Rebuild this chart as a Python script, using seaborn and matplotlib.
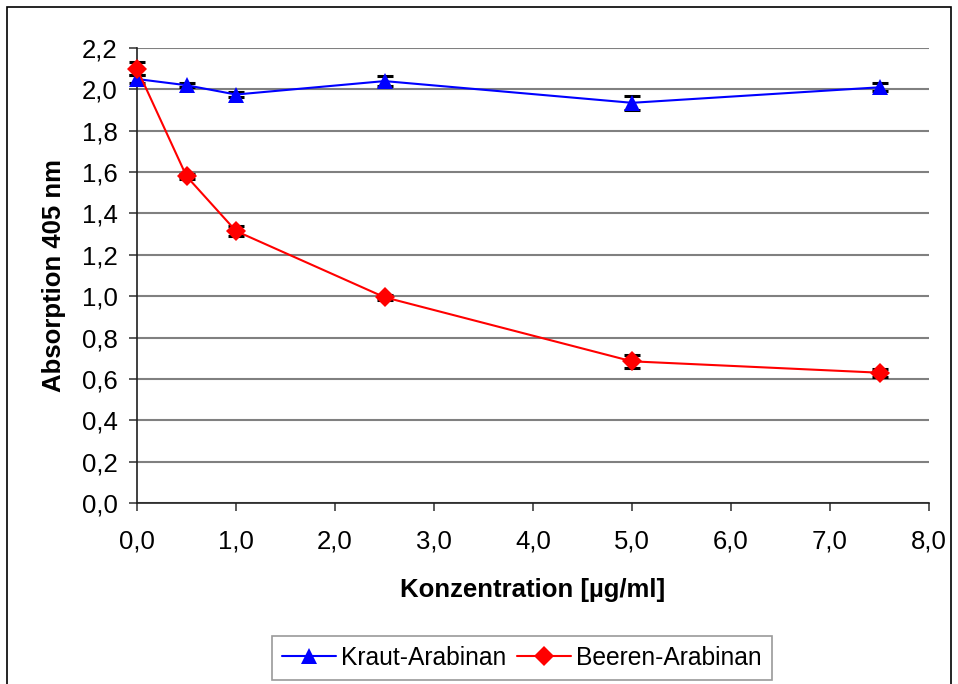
import numpy as np
import pandas as pd
import matplotlib
matplotlib.use("Agg")
import matplotlib.pyplot as plt
import seaborn as sns
from matplotlib.patches import Rectangle
from matplotlib.lines import Line2D
from matplotlib.ticker import FuncFormatter, MultipleLocator

# Daten
konzentration = [0.0, 0.5, 1.0, 2.5, 5.0, 7.5]
kraut = [2.05, 2.02, 1.975, 2.04, 1.935, 2.01]
kraut_err = [0.02, 0.01, 0.012, 0.025, 0.035, 0.02]
beeren = [2.10, 1.58, 1.315, 0.995, 0.685, 0.63]
beeren_err = [0.03, 0.012, 0.025, 0.012, 0.03, 0.02]
serien = ["Kraut-Arabinan", "Beeren-Arabinan"]
farben = {"Kraut-Arabinan": "#0000ff", "Beeren-Arabinan": "#ff0000"}
marker = {"Kraut-Arabinan": "^", "Beeren-Arabinan": "D"}

df = pd.DataFrame({
    "Konzentration": konzentration * 2,
    "Absorption": kraut + beeren,
    "Fehler": kraut_err + beeren_err,
    "Serie": [serien[0]] * len(konzentration) + [serien[1]] * len(konzentration),
})

sns.set_style("white")
plt.rcParams["font.family"] = ["Liberation Sans", "DejaVu Sans"]
plt.rcParams["text.color"] = "black"
plt.rcParams["axes.labelcolor"] = "black"
plt.rcParams["xtick.color"] = "black"
plt.rcParams["ytick.color"] = "black"
fs = 18.5

fig = plt.figure(figsize=(9.58, 6.84), dpi=100)
ax = fig.add_axes([137 / 958, 1 - 503 / 684, (929 - 137) / 958, (503 - 48) / 684])

sns.lineplot(data=df, x="Konzentration", y="Absorption", hue="Serie", style="Serie",
             palette=farben, markers=marker, dashes=False, linewidth=1.5,
             ax=ax, zorder=3, legend=False)
for ln in ax.lines:
    c = ln.get_color()
    ln.set_markeredgecolor(c)
    ln.set_markerfacecolor(c)
    ln.set_markeredgewidth(0)
    ln.set_markersize(12 if ln.get_marker() == "^" else 10)
    ln.set_clip_on(False)

# Fehlerbalken
for s in serien:
    d = df[df["Serie"] == s]
    eb = ax.errorbar(d["Konzentration"], d["Absorption"], yerr=d["Fehler"], fmt="none",
                     ecolor="black", elinewidth=1.5, capsize=6, capthick=2.2, zorder=2)
    for art in eb.lines[1] + eb.lines[2]:
        art.set_clip_on(False)

ax.set_xlim(0, 8)
ax.set_ylim(0, 2.2)
ax.xaxis.set_major_locator(MultipleLocator(1.0))
ax.yaxis.set_major_locator(MultipleLocator(0.2))
komma = FuncFormatter(lambda v, p: f"{v:.1f}".replace(".", ","))
ax.xaxis.set_major_formatter(komma)
ax.yaxis.set_major_formatter(komma)
ax.grid(axis="y", color="#808080", linewidth=1.5)
ax.set_axisbelow(True)
for sp in ["top", "right"]:
    ax.spines[sp].set_visible(False)
for sp in ["left", "bottom"]:
    ax.spines[sp].set_color("#202020")
    ax.spines[sp].set_linewidth(1.2)
ax.tick_params(axis="both", direction="out", length=6, width=1.2, color="#404040",
               labelsize=fs, left=True, bottom=True)
ax.tick_params(axis="x", pad=13)
ax.tick_params(axis="y", pad=8)
ax.set_xlabel("Konzentration [µg/ml]", fontsize=fs, fontweight="bold", labelpad=18)
ax.set_ylabel("Absorption 405 nm", fontsize=fs, fontweight="bold", labelpad=11)

handles = [
    Line2D([], [], color="#0000ff", marker="^", markersize=12, markeredgewidth=0, linewidth=1.5),
    Line2D([], [], color="#ff0000", marker="D", markersize=10, markeredgewidth=0, linewidth=1.5),
]
leg = fig.legend(handles, serien, loc="center", bbox_to_anchor=(522 / 958, 1 - 658 / 684),
                 ncol=2, fontsize=17.7, frameon=True, fancybox=False, edgecolor="#808080",
                 handlelength=2.2, columnspacing=0.45, handletextpad=0.2, borderpad=0.4)
leg.get_frame().set_linewidth(1.2)

fig.patches.append(Rectangle((7 / 958, -0.01), (951 - 7) / 958, 1 - 7 / 684 + 0.01,
                             transform=fig.transFigure, fill=False, edgecolor="black",
                             linewidth=1.2))

fig.savefig("out.png", dpi=100)
